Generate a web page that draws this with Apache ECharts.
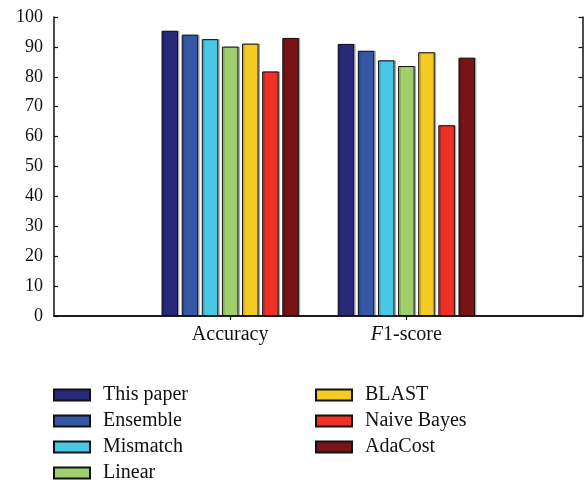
<!DOCTYPE html>
<html>
<head>
<meta charset="utf-8">
<script src="https://cdn.jsdelivr.net/npm/echarts@6/dist/echarts.min.js"></script>
<style>html,body{margin:0;padding:0;background:#fff}#c{width:587px;height:484px}</style>
</head>
<body>
<div id="c"></div>
<script>
var categories = ['', 'Accuracy', 'F1-score', ''];
var seriesNames = ['This paper', 'Ensemble', 'Mismatch', 'Linear', 'BLAST', 'Naive Bayes', 'AdaCost'];
var thisPaper  = [null, 95.4, 91.0, null];
var ensemble   = [null, 94.1, 88.7, null];
var mismatch   = [null, 92.6, 85.5, null];
var linear     = [null, 90.1, 83.6, null];
var blast      = [null, 91.1, 88.2, null];
var naiveBayes = [null, 81.8, 63.8, null];
var adaCost    = [null, 93.0, 86.4, null];
var yTicks = [0, 10, 20, 30, 40, 50, 60, 70, 80, 90, 100];

var values = [thisPaper, ensemble, mismatch, linear, blast, naiveBayes, adaCost];
var colors = ['#29297a', '#3656a6', '#48c8e6', '#a0cf6e', '#f4cb22', '#ee3124', '#7a1316'];
var font = 'Liberation Serif';

var chart = echarts.init(document.getElementById('c'));
var series = seriesNames.map(function (n, i) {
  return {
    name: n, type: 'bar', data: values[i],
    barWidth: 16.5, barGap: '22%',
    itemStyle: { color: colors[i], borderColor: '#111', borderWidth: 1,
      shadowColor: 'rgba(0,0,0,0.25)', shadowBlur: 0, shadowOffsetX: 1.5, shadowOffsetY: 0 },
    emphasis: { disabled: true }
  };
});
var axisLine = { show: true, lineStyle: { color: '#111', width: 1.5 } };
var tick = { show: true, inside: true, length: 4, lineStyle: { color: '#111', width: 1.2 } };
var legendText = { fontFamily: font, fontSize: 20, color: '#111', padding: [0, 0, 0, 8] };
var catTick = { show: true, inside: true, length: 4, lineStyle: { color: '#111', width: 1.2 },
  interval: function (i) { return i === 1 || i === 2; } };
chart.setOption({
  animation: false,
  grid: { left: 54, right: 4.5, top: 17, bottom: 168 },
  xAxis: [{
    type: 'category', data: categories, boundaryGap: false,
    axisLine: axisLine, axisTick: catTick,
    axisLabel: { interval: 0, margin: 9, fontFamily: font, fontSize: 20, color: '#111',
      formatter: function (v) { return v === 'F1-score' ? '{i|F}1-score' : v; },
      rich: { i: { fontStyle: 'italic', fontFamily: font, fontSize: 20, color: '#111' } } },
    splitLine: { show: false }
  }, {
    type: 'category', data: categories, boundaryGap: false, position: 'top',
    axisLine: axisLine, axisTick: catTick,
    axisLabel: { show: false }, splitLine: { show: false }
  }],
  yAxis: [{
    type: 'value', min: 0, max: 100, interval: 10,
    axisLine: axisLine, axisTick: tick,
    axisLabel: { margin: 11, fontFamily: font, fontSize: 18, color: '#111',
      formatter: function (v) { return yTicks.indexOf(v) >= 0 ? String(v) : ''; } },
    splitLine: { show: false }
  }, {
    type: 'value', min: 0, max: 100, interval: 10, position: 'right',
    axisLine: axisLine, axisTick: tick, axisLabel: { show: false }, splitLine: { show: false }
  }],
  legend: [{
    data: seriesNames.slice(0, 4), orient: 'vertical', left: 53, top: 385, height: 110, padding: 0,
    itemWidth: 36, itemHeight: 11, itemGap: 6, selectedMode: false,
    icon: 'rect', textStyle: legendText
  }, {
    data: seriesNames.slice(4), orient: 'vertical', left: 315, top: 385, height: 110, padding: 0,
    itemWidth: 36, itemHeight: 11, itemGap: 6, selectedMode: false,
    icon: 'rect', textStyle: legendText
  }],
  series: series
});
</script>
</body>
</html>
